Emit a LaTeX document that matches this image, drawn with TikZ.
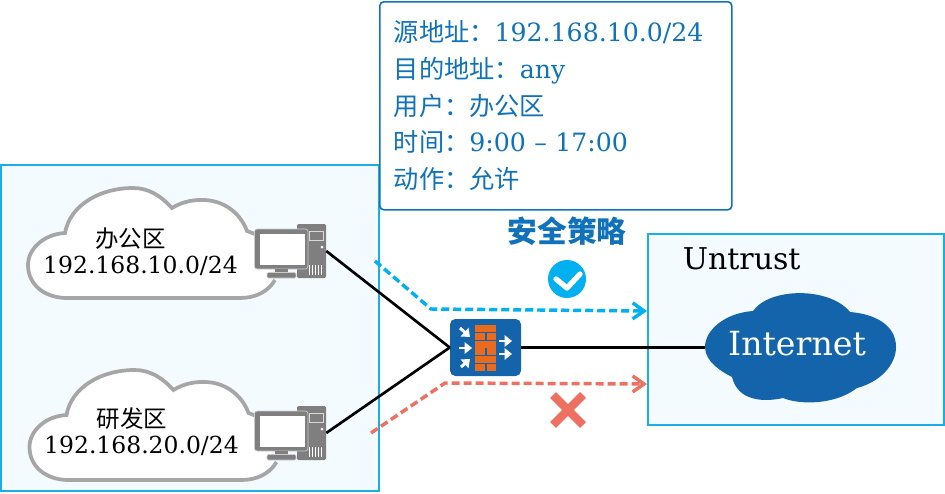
\documentclass[tikz,border=0pt]{standalone}
\usepackage{fontspec}
\setmainfont{DejaVu Serif}
\newfontfamily\cjk{Noto Sans CJK SC}
\usetikzlibrary{arrows.meta}

\newcommand{\zh}[1]{{\cjk #1}}

\definecolor{zoneline}{HTML}{1AAEE5}
\definecolor{zonefill}{HTML}{F3FBFF}
\definecolor{policyblue}{HTML}{0F72BA}
\definecolor{netblue}{HTML}{1464AB}
\definecolor{allowblue}{HTML}{00B0F0}
\definecolor{denyred}{HTML}{EE7060}
\definecolor{brick}{HTML}{EC6A1C}
\definecolor{pcgrey}{HTML}{7F7F7F}
\definecolor{cloudgrey}{HTML}{A6A6A6}

\tikzset{
    zone/.style={draw=zoneline, fill=zonefill, line width=1.7pt},
    link/.style={line width=2pt, black},
    flow/.style={line width=2.6pt, dash pattern=on 6pt off 3pt, -{Straight Barb[length=8.5pt,width=12pt]}},
    pcbox/.style={minimum width=54pt, minimum height=40.5pt, inner sep=0pt},
    nettext/.style={font=\fontsize{17.6}{20}\selectfont, inner sep=0pt},
    fwarrow/.style={white, line width=2.2pt, -{Triangle[length=5.5pt,width=8.5pt]}},
    pics/lancloud/.style={code={
        \path[draw=cloudgrey, fill=white, line width=2.8pt]
            (255,234) -- (247,231)
            .. controls (240,212) and (222,199) .. (200,200)
            .. controls (190,200) and (180,203) .. (172,208)
            .. controls (160,195) and (148,188) .. (133,188)
            .. controls (100,188) and (70,205) .. (65,233)
            .. controls (45,234) and (28,248) .. (28,265)
            .. controls (28,285) and (45,298) .. (67,298)
            -- (240,298)
            .. controls (255,298) and (268,292) .. (275,280);
    }},
    pics/pcicon/.style={code={
        % tower
        \fill[pcgrey, rounded corners=1pt] (297,224) rectangle (326,278);
        \draw[white!85!black, line width=.5pt] (309,231) rectangle (323,240);
        \fill[white] (322,247) circle (1.5);
        \foreach \vx in {309,312,315,318,321} {
            \draw[white, line width=.6pt] (\vx,265) -- (\vx,275);
        }
        % monitor
        \fill[pcgrey, rounded corners=2pt, draw=white!80!black, line width=.5pt] (254.5,229) rectangle (308,269);
        \fill[white] (260,233.5) rectangle (305,265);
        \fill[pcgrey] (275,269) rectangle (288,273);
        \fill[pcgrey, rounded corners=1pt, draw=white!80!black, line width=.4pt] (267,272.5) rectangle (296,278);
    }},
}

\begin{document}
\begin{tikzpicture}[x=0.75pt, y=-0.75pt]
    \useasboundingbox (0,0) rectangle (945,493);

    % zones
    \draw[zone] (1,165) rectangle (379,491);
    \draw[zone] (648,234) rectangle (944,425);

    % lan side
    \pic at (0,0) {lancloud};
    \pic at (1.5,182) {lancloud};
    \node[nettext] (nameA) at (130.5,238.5) {\zh{办公区}};
    \node[nettext] (ipA) at (140.5,265.5) {192.168.10.0/24};
    \node[nettext] (nameB) at (132,418.5) {\zh{研发区}};
    \node[nettext] (ipB) at (141.5,445.5) {192.168.20.0/24};
    \pic at (0,0) {pcicon};
    \pic at (0,182) {pcicon};
    \node[pcbox] (pcA) at (290,251) {};
    \node[pcbox] (pcB) at (290,433) {};

    % internet
    \fill[netblue] (705,347) .. controls (705,330) and (725,313) .. (753,311)
        .. controls (770,287) and (830,287) .. (850,312)
        .. controls (875,314) and (896,325) .. (896,347)
        .. controls (896,365) and (880,382) .. (857,388)
        .. controls (835,405) and (800,405) .. (783,398)
        .. controls (765,402) and (738,402) .. (732,377)
        .. controls (722,372) and (705,362) .. cycle;
    \node[white, font=\fontsize{24.9}{28}\selectfont, inner sep=0pt, minimum width=138pt] (inet) at (797,344) {Internet};
    \node[anchor=base west, font=\fontsize{22.5}{26}\selectfont, inner sep=0pt] (untrust) at (682.5,269) {Untrust};

    % policy box
    \node[draw=policyblue, fill=white, line width=1.2pt, rounded corners=3pt, anchor=north west,
          text=policyblue, font=\fontsize{18.9}{27.5}\selectfont, align=left,
          minimum width=264pt, minimum height=156pt, text width=243pt, inner sep=10.5pt] (policy) at (379,1)
        {\zh{源地址：}192.168.10.0/24\\
         \zh{目的地址：}any\\
         \zh{用户：办公区}\\
         \zh{时间：}9:00 -- 17:00\\
         \zh{动作：允许}};
    \node[text=policyblue, font=\cjk\bfseries\fontsize{22.3}{26}\selectfont, inner sep=0pt] (title) at (567,231) {安全策略};

    % firewall
    \node[fill=netblue, rounded corners=4pt, minimum width=53.25pt, minimum height=42.75pt, inner sep=0pt] (fw) at (485.5,347.5) {};
    \foreach \ry in {325,341,356} {
        \fill[brick] (475,\ry) rectangle (496,\ry+7);
    }
    \foreach \ry in {333,348,364} {
        \fill[brick] (475,\ry) rectangle (485,\ry+6.5);
        \fill[brick] (486.5,\ry) rectangle (496,\ry+6.5);
    }
    \draw[fwarrow] (460,328) -- (470,337);
    \draw[fwarrow] (459,348) -- (472,348);
    \draw[fwarrow] (461,367) -- (470,359);
    \draw[fwarrow] (499,341) -- (512,341);
    \draw[fwarrow] (499,354) -- (512,354);

    % links
    \draw[link] (pcA.east) -- (fw.west);
    \draw[link] (pcB.east) -- (fw.west);
    \draw[link] (fw.east) -- (fw.east -| inet.west);

    % traffic
    \coordinate (allowS) at (375,261);
    \coordinate (allowB) at (431,309);
    \coordinate (allowE) at (647,311);
    \coordinate (denyS) at (371,433);
    \coordinate (denyB) at (445,383);
    \coordinate (denyE) at (647,384);
    \draw[flow, allowblue] (allowS) -- (allowB) -- (allowE);
    \draw[flow, denyred] (denyS) -- (denyB) -- (denyE);

    % marks
    \node[circle, fill=allowblue, minimum size=28.5pt, inner sep=0pt] (okmark) at (567,279) {};
    \draw[white, line width=4pt, line cap=round, line join=round] (556,279) -- (567,288) -- (580,274);
    \draw[denyred, line width=6.2pt] (553,395) -- (583,425);
    \draw[denyred, line width=6.2pt] (583,395) -- (553,425);
\end{tikzpicture}
\end{document}
